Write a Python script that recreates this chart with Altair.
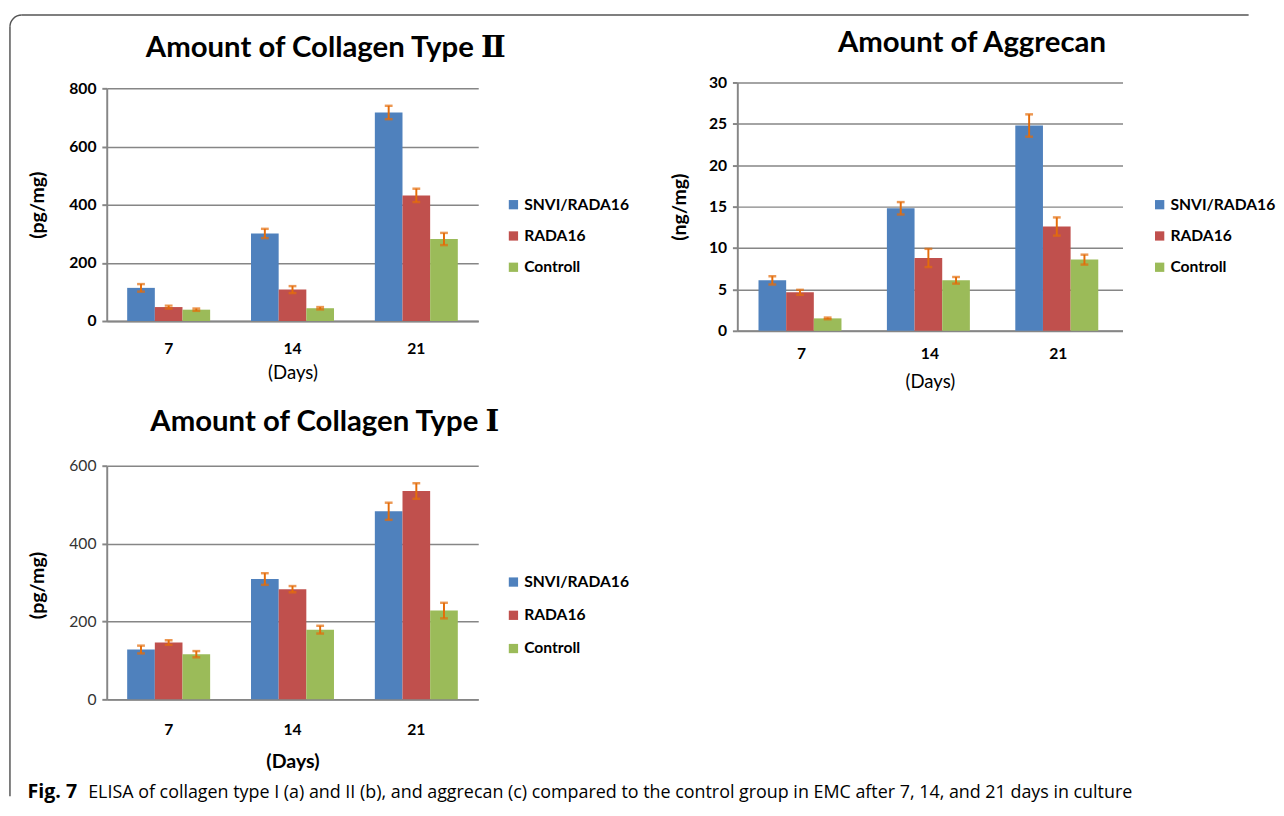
import altair as alt
import pandas as pd

days = ["7", "14", "21"]
groups = ["SNVI/RADA16", "RADA16", "Controll"]
bar_colors = ["#4F81BD", "#C0504D", "#9BBB59"]
err_color = "#E46C0A"

# Collagen type II (pg/mg)
col2_snvi = [114, 301, 717]
col2_rada = [48, 108, 432]
col2_ctrl = [39, 44, 282]
col2_snvi_err = [13, 16, 23]
col2_rada_err = [5, 12, 23]
col2_ctrl_err = [4, 4, 21]

# Aggrecan (ng/mg)
agg_snvi = [6.1, 14.8, 24.8]
agg_rada = [4.65, 8.8, 12.6]
agg_ctrl = [1.5, 6.1, 8.6]
agg_snvi_err = [0.5, 0.75, 1.35]
agg_rada_err = [0.3, 1.1, 1.1]
agg_ctrl_err = [0.1, 0.4, 0.6]

# Collagen type I (pg/mg)
col1_snvi = [128, 309, 483]
col1_rada = [146, 283, 535]
col1_ctrl = [116, 179, 228]
col1_snvi_err = [10, 15, 22]
col1_rada_err = [6, 8, 20]
col1_ctrl_err = [8, 10, 20]

caption_bold = "Fig. 7"
caption_text = ("ELISA of collagen type I (a) and II (b), and aggrecan (c) compared to the "
                "control group in EMC after 7, 14, and 21 days in culture")

FONT = "Lato, 'DejaVu Serif'"
GRID = "#868686"
FRAME = "#555555"


def make_df(vals, errs):
    rows = []
    for g, v, e in zip(groups, vals, errs):
        for d, vv, ee in zip(days, v, e):
            rows.append({"day": d, "group": g, "value": vv, "lo": vv - ee, "hi": vv + ee})
    return pd.DataFrame(rows)


def panel(df, title, title_dx, title_offset, ytitle, ymax, ystep, w, h, yrange,
          ytitle_x, ytitle_y, xlab_pad, xtitle_y, xtitle_bold, xtitle_size,
          ylab_bold, leg_x, leg_y, leg_row):
    ysc = dict(domain=[0, ymax], nice=False, zero=True)
    if yrange is not None:
        ysc["range"] = yrange
    yscale = alt.Scale(**ysc)
    xenc = alt.X(
        "day:N", sort=days,
        scale=alt.Scale(paddingInner=0.33, paddingOuter=0.165),
        axis=alt.Axis(
            title="(Days)", labelAngle=0, ticks=False, domainColor=GRID, domainWidth=2,
            labelFont=FONT, labelFontSize=16, labelFontWeight="bold", labelColor="black",
            labelPadding=xlab_pad, titleFont=FONT, titleFontSize=xtitle_size,
            titleFontWeight="bold" if xtitle_bold else "normal", titleColor="black",
            titleY=xtitle_y, titleBaseline="middle",
        ),
    )
    xoff = alt.XOffset("group:N", sort=groups,
                       scale=alt.Scale(paddingInner=0, paddingOuter=0))
    base = alt.Chart(df).encode(x=xenc, xOffset=xoff)
    bars = base.mark_bar().encode(
        y=alt.Y("value:Q", scale=yscale, title=ytitle,
                axis=alt.Axis(
                    values=list(range(0, ymax + 1, ystep)), grid=True, gridColor=GRID,
                    gridWidth=1.5, domainColor=GRID, domainWidth=2, tickColor=GRID,
                    tickSize=5, tickWidth=2, labelFont=FONT, labelFontSize=16,
                    labelFontWeight="bold" if ylab_bold else "normal",
                    labelColor="black" if ylab_bold else "#333333", labelPadding=6,
                    titleFont=FONT, titleFontSize=20, titleFontWeight="bold",
                    titleColor="black", titleX=ytitle_x, titleY=ytitle_y, titleAngle=270,
                    titleBaseline="middle", titleAlign="center",
                )),
        color=alt.Color(
            "group:N", sort=groups,
            scale=alt.Scale(domain=groups, range=bar_colors),
            legend=alt.Legend(
                title=None, orient="none", legendX=leg_x, legendY=leg_y,
                symbolType="square", symbolSize=90, symbolStrokeWidth=0,
                labelFont=FONT, labelFontSize=16, labelFontWeight="bold",
                labelColor="black", labelOffset=3, rowPadding=leg_row,
            ),
        ),
    )
    rules = base.mark_rule(color=err_color, strokeWidth=2).encode(
        y=alt.Y("lo:Q", scale=yscale, title=ytitle), y2="hi:Q")
    cap_lo = base.mark_tick(color=err_color, thickness=2.5, size=8).encode(
        y=alt.Y("lo:Q", scale=yscale, title=ytitle))
    cap_hi = base.mark_tick(color=err_color, thickness=2.5, size=8).encode(
        y=alt.Y("hi:Q", scale=yscale, title=ytitle))
    return alt.layer(bars, rules, cap_lo, cap_hi).properties(
        width=w, height=h,
        title=alt.TitleParams(
            title, font=FONT, fontSize=30, fontWeight="bold", color="black",
            anchor="middle", frame="group", dx=title_dx, offset=title_offset,
        ),
    )


pA = panel(make_df([col2_snvi, col2_rada, col2_ctrl], [col2_snvi_err, col2_rada_err, col2_ctrl_err]),
           "Amount of Collagen Type \u2161", 34, 18, "(pg/mg)", 800, 200, 380, 244, [244, 6],
           -71, 125, 20, 53, False, 19, True, 408, 117, 16)
pB = panel(make_df([agg_snvi, agg_rada, agg_ctrl], [agg_snvi_err, agg_rada_err, agg_ctrl_err]),
           "Amount of Aggrecan", 43, 17, "(ng/mg)", 30, 5, 394, 254, None,
           -59, 127, 15, 52, False, 19, True, 424, 117, 16)
pC = panel(make_df([col1_snvi, col1_rada, col1_ctrl], [col1_snvi_err, col1_rada_err, col1_ctrl_err]),
           "Amount of Collagen Type   \u2160", 33, 21, "(pg/mg)", 600, 200, 380, 239, None,
           -71, 122, 23, 64, True, 20, False, 408, 111, 18)

one = pd.DataFrame({"k": [0]})
frame_top = alt.Chart(one).mark_rule(color=FRAME, strokeWidth=1.5).encode(
    x=alt.value(-732), x2=alt.value(523), y=alt.value(-461))
frame_left = alt.Chart(one).mark_rule(color=FRAME, strokeWidth=1.5).encode(
    x=alt.value(-744), y=alt.value(-449), y2=alt.value(338))
frame_corner = alt.Chart(one).mark_arc(
    radius=12.75, radius2=11.25, theta=4.7124, theta2=6.2832, color=FRAME).encode(
    x=alt.value(-732), y=alt.value(-449))
cap1 = alt.Chart(one).mark_text(
    text=caption_bold, align="left", baseline="alphabetic", font="Open Sans",
    fontSize=20, fontWeight="bold", color="black").encode(x=alt.value(-726), y=alt.value(340))
cap2 = alt.Chart(one).mark_text(
    text=caption_text, align="left", baseline="alphabetic", font="Open Sans",
    fontSize=18.3, fontWeight="normal", color="black").encode(x=alt.value(-664), y=alt.value(340))
deco = alt.layer(frame_top, frame_left, frame_corner, cap1, cap2).properties(width=1, height=1)

chart = alt.concat(pA, pB, pC, deco, columns=2).properties(
    spacing={"row": 138, "column": 265}, bounds="flush", align="each",
    padding={"left": 1, "top": -3, "right": 0, "bottom": 0},
    background="white",
).resolve_scale(color="independent", x="independent", y="independent").configure_view(stroke=None)

chart.save("out.html", embed_options={"renderer": "svg", "actions": False})
